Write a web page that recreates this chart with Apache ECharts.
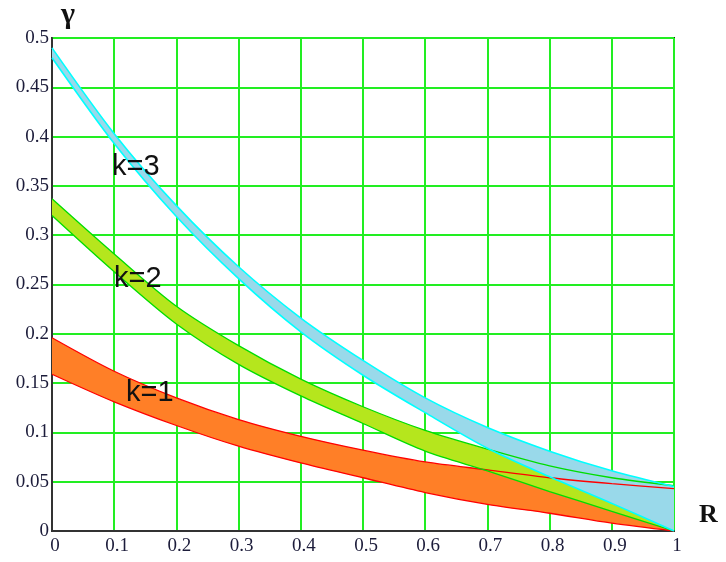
<!DOCTYPE html>
<html>
<head>
<meta charset="utf-8">
<script src="https://cdn.jsdelivr.net/npm/echarts@6/dist/echarts.min.js"></script>
<style>
html,body{margin:0;padding:0;background:#fff;}
#chart{width:726px;height:562px;}
</style>
</head>
<body>
<div id="chart"></div>
<script>
// ---- data ----
var R = ['0', '0.1', '0.2', '0.3', '0.4', '0.5', '0.6', '0.7', '0.8', '0.9', '1'];
var k1Upper = [0.196, 0.162, 0.135, 0.113, 0.096, 0.082, 0.070, 0.062, 0.054, 0.048, 0.043];
var k1Lower = [0.159, 0.131, 0.107, 0.086, 0.069, 0.054, 0.039, 0.027, 0.018, 0.008, 0.0];
var k2Upper = [0.337, 0.281, 0.228, 0.188, 0.154, 0.126, 0.102, 0.083, 0.066, 0.054, 0.046];
var k2Lower = [0.320, 0.263, 0.210, 0.169, 0.137, 0.109, 0.081, 0.061, 0.040, 0.020, 0.0];
var k3Upper = [0.490, 0.403, 0.330, 0.268, 0.216, 0.173, 0.135, 0.105, 0.081, 0.061, 0.045];
var k3Lower = [0.480, 0.393, 0.319, 0.256, 0.202, 0.158, 0.120, 0.084, 0.055, 0.028, 0.0];
var yTickLabels = ['0', '0.05', '0.1', '0.15', '0.2', '0.25', '0.3', '0.35', '0.4', '0.45', '0.5'];
var bandNames = ['k=1', 'k=2', 'k=3'];

function diff(up, lo) { return up.map(function (u, i) { return +(u - lo[i]).toFixed(4); }); }

var SM = 0.3;
var bands = [
  { up: k1Upper, lo: k1Lower, fill: '#ff7f27', line: '#ff0000', w: 1.3 },
  { up: k2Upper, lo: k2Lower, fill: '#b5e61d', line: '#00dd00', w: 1.3 },
  { up: k3Upper, lo: k3Lower, fill: '#99d9ea', line: '#00ffff', w: 1.6 }
];

var series = [];
bands.forEach(function (b, i) {
  series.push({
    type: 'line', stack: 'band' + i, data: b.lo, smooth: SM,
    symbol: 'none', lineStyle: { opacity: 0 }, silent: true, z: 2 + i
  });
  series.push({
    type: 'line', stack: 'band' + i, data: diff(b.up, b.lo), smooth: SM,
    symbol: 'none', lineStyle: { opacity: 0 }, areaStyle: { color: b.fill, opacity: 1 },
    silent: true, z: 2 + i
  });
});
bands.forEach(function (b, i) {
  [b.lo, b.up].forEach(function (arr) {
    series.push({
      type: 'line', data: arr, smooth: SM, symbol: 'none',
      lineStyle: { color: b.line, width: b.w }, silent: true, z: 10
    });
  });
});

var chart = echarts.init(document.getElementById('chart'), null, { renderer: 'canvas' });
chart.setOption({
  animation: false,
  backgroundColor: '#ffffff',
  grid: { left: 52, right: 52, top: 38, height: 493, show: true, borderColor: '#222', borderWidth: 2, backgroundColor: 'transparent' },
  xAxis: {
    type: 'category', data: R, boundaryGap: false,
    axisLine: { show: true, lineStyle: { color: '#333', width: 2 } },
    axisTick: { show: false },
    splitLine: { show: true, interval: 0, lineStyle: { color: '#22ee22', width: 2 } },
    axisLabel: {
      margin: 6, color: '#1c1c3a', fontFamily: 'Liberation Serif', fontSize: 19,
      padding: [0, 0, 0, 6], interval: 0
    }
  },
  yAxis: {
    type: 'value', min: 0, max: 0.5, interval: 0.05,
    axisLine: { show: true, lineStyle: { color: '#333', width: 2 } },
    axisTick: { show: false },
    splitLine: { show: true, lineStyle: { color: '#22ee22', width: 2 } },
    axisLabel: {
      margin: 3, color: '#1c1c3a', fontFamily: 'Liberation Serif', fontSize: 19,
      formatter: function (v) { return yTickLabels[Math.round(v * 20)]; }
    }
  },
  graphic: [
    { type: 'text', left: 61, top: 0, style: { text: 'γ', font: 'bold 30px "Liberation Serif"', fill: '#111' } },
    { type: 'text', left: 699, top: 502, style: { text: 'R', font: 'bold 26px "Liberation Serif"', fill: '#111' } },
    { type: 'text', left: 112, top: 152, z: 100, style: { text: bandNames[2], font: '29px "Liberation Sans"', fill: '#111' } },
    { type: 'text', left: 114, top: 264, z: 100, style: { text: bandNames[1], font: '29px "Liberation Sans"', fill: '#111' } },
    { type: 'text', left: 126, top: 378, z: 100, style: { text: bandNames[0], font: '29px "Liberation Sans"', fill: '#111' } }
  ],
  series: series
});
</script>
</body>
</html>
